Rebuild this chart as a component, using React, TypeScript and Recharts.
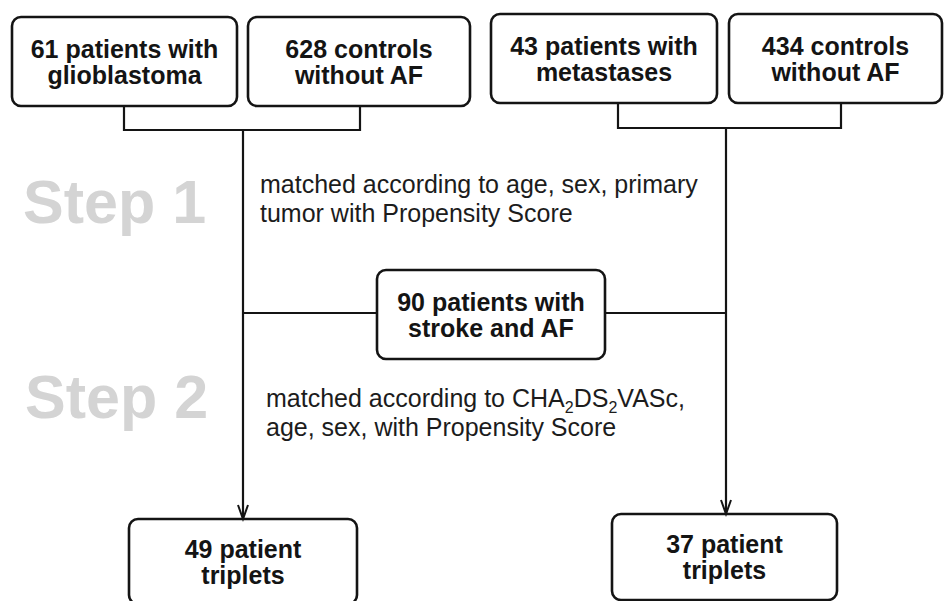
import React from 'react';
import { ComposedChart, XAxis, YAxis, ReferenceArea, Line, Scatter } from 'recharts';

const FONT = '"Liberation Sans", Arial, Helvetica, sans-serif';
const INK = '#141414';

// flow boxes, in page units (y grows downward)
const boxes = [
  { x1: 12, x2: 237, y1: 17, y2: 106, lines: ['61 patients with', 'glioblastoma'] },
  { x1: 248, x2: 470, y1: 17, y2: 106, lines: ['628 controls', 'without AF'] },
  { x1: 491, x2: 717, y1: 14, y2: 103, lines: ['43 patients with', 'metastases'] },
  { x1: 729, x2: 942, y1: 14, y2: 103, lines: ['434 controls', 'without AF'] },
  { x1: 377, x2: 605, y1: 270, y2: 359, lines: ['90 patients with', 'stroke and AF'] },
  { x1: 129, x2: 357, y1: 519, y2: 604, lines: ['49 patient', 'triplets'] },
  { x1: 612, x2: 837, y1: 514, y2: 600, lines: ['37 patient', 'triplets'] },
];

const connectors = [
  [{ x: 124, y: 106 }, { x: 124, y: 130 }, { x: 360, y: 130 }, { x: 360, y: 106 }],
  [{ x: 243, y: 130 }, { x: 243, y: 518 }],
  [{ x: 618, y: 103 }, { x: 618, y: 128 }, { x: 841, y: 128 }, { x: 841, y: 103 }],
  [{ x: 726, y: 128 }, { x: 726, y: 513 }],
  [{ x: 243, y: 313 }, { x: 377, y: 313 }],
  [{ x: 605, y: 313 }, { x: 726, y: 313 }],
];

const arrowTips = [
  { x: 243, y: 519 },
  { x: 726, y: 514 },
];

const stepLabels = [
  { x: 23, y: 223, text: 'Step 1' },
  { x: 25, y: 418, text: 'Step 2' },
];

const notes = [
  { x: 260, y: 193, lines: ['matched according to age, sex, primary', 'tumor with Propensity Score'] },
  { x: 266, y: 407, lines: ['matched according to CHA_2DS_2VASc,', 'age, sex, with Propensity Score'] },
];

function BoxShape(props: any) {
  const { x, y, width, height, lines } = props;
  const cx = x + width / 2;
  const cy = y + height / 2;
  return (
    <g>
      <rect x={x} y={y} width={width} height={height} rx={9} ry={9} fill="#fff" stroke={INK} strokeWidth={2.6} />
      {lines.map((t: string, i: number) => (
        <text
          key={i}
          x={cx}
          y={cy + (i === 0 ? -13 : 13)}
          dy="0.36em"
          textAnchor="middle"
          fontFamily={FONT}
          fontWeight="bold"
          fontSize={25}
          fill={INK}
        >
          {t}
        </text>
      ))}
    </g>
  );
}

function ArrowHead(props: any) {
  const { cx, cy } = props;
  return (
    <path
      d={`M${cx - 5},${cy - 14} L${cx},${cy} L${cx + 5},${cy - 14}`}
      fill="none"
      stroke={INK}
      strokeWidth={2}
    />
  );
}

function StepLabel(props: any) {
  const { cx, cy, payload } = props;
  return (
    <text x={cx} y={cy} fontFamily={FONT} fontWeight="bold" fontSize={61} fill="#d4d4d4">
      {payload.text}
    </text>
  );
}

function renderRich(line: string) {
  // "_2" marks a subscript digit
  const parts = line.split(/_(\d)/);
  const out: React.ReactNode[] = [];
  let shifted = false;
  parts.forEach((p, i) => {
    if (i % 2 === 1) {
      out.push(
        <tspan key={i} dy={6} fontSize={16}>
          {p}
        </tspan>
      );
      shifted = true;
    } else if (p) {
      out.push(
        <tspan key={i} dy={shifted ? -6 : 0}>
          {p}
        </tspan>
      );
      shifted = false;
    }
  });
  return out;
}

function NoteLabel(props: any) {
  const { cx, cy, payload } = props;
  return (
    <g>
      {payload.lines.map((l: string, i: number) => (
        <text key={i} x={cx} y={cy + i * 29} fontFamily={FONT} fontSize={25} fill="#1c1c1c">
          {renderRich(l)}
        </text>
      ))}
    </g>
  );
}

export default function App() {
  return (
    <div style={{ position: 'absolute', left: 0, top: 0, width: 944, height: 601, background: '#fff' }}>
      <ComposedChart width={944} height={601} margin={{ top: 0, right: 0, bottom: 0, left: 0 }}>
        <XAxis type="number" dataKey="x" domain={[0, 944]} hide allowDataOverflow />
        <YAxis type="number" dataKey="y" domain={[0, 601]} reversed hide allowDataOverflow />
        {stepLabels.length > 0 && (
          <Scatter data={stepLabels} dataKey="y" shape={StepLabel} isAnimationActive={false} />
        )}
        {connectors.map((pts, i) => (
          <Line
            key={'c' + i}
            data={pts}
            dataKey="y"
            type="linear"
            stroke={INK}
            strokeWidth={2.2}
            dot={false}
            activeDot={false}
            isAnimationActive={false}
          />
        ))}
        {boxes.map((b, i) => (
          <ReferenceArea
            key={'b' + i}
            x1={b.x1}
            x2={b.x2}
            y1={b.y1}
            y2={b.y2}
            ifOverflow="visible"
            shape={(p: any) => <BoxShape {...p} lines={b.lines} />}
          />
        ))}
        <Scatter data={arrowTips} dataKey="y" shape={ArrowHead} isAnimationActive={false} />
        <Scatter data={notes} dataKey="y" shape={NoteLabel} isAnimationActive={false} />
      </ComposedChart>
    </div>
  );
}
